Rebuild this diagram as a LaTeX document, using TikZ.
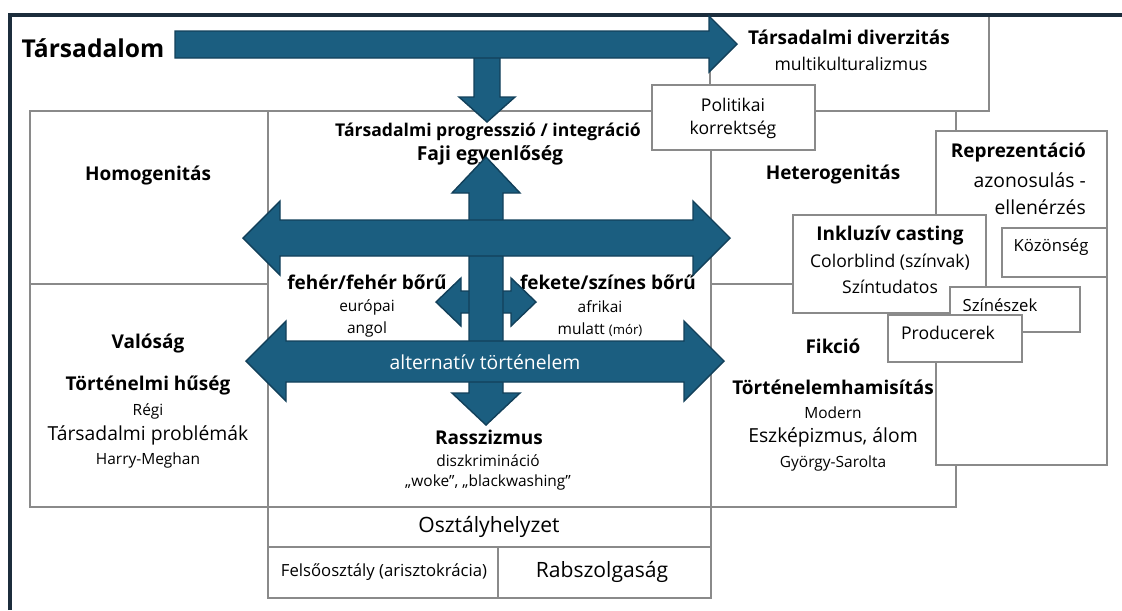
\documentclass[tikz,border=0pt]{standalone}
\usepackage{fontspec}
\setmainfont{Open Sans}
\definecolor{arrowblue}{HTML}{1B5E80}
\definecolor{arrowedge}{HTML}{12405A}
\definecolor{framenavy}{HTML}{1C2D3C}
\definecolor{boxgray}{HTML}{8A8A8A}
\tikzset{
    box/.style={draw=boxgray, line width=0.6pt, fill=white},
    rule/.style={draw=boxgray, line width=0.6pt},
    arr/.style={fill=arrowblue, draw=arrowedge, line width=0.8pt, line join=miter},
    title/.style={font=\fontsize{14}{16}\selectfont\bfseries},
    head/.style={font=\fontsize{10.8}{12}\selectfont\bfseries},
    headsmall/.style={font=\fontsize{10}{12}\selectfont\bfseries},
    headbig/.style={font=\fontsize{11}{13}\selectfont\bfseries},
    plain/.style={font=\fontsize{10}{12}\selectfont},
    plainbig/.style={font=\fontsize{11}{13}\selectfont},
    plainlarge/.style={font=\fontsize{12}{14}\selectfont},
    note/.style={font=\fontsize{8.8}{10}\selectfont},
    notebig/.style={font=\fontsize{9.5}{11}\selectfont}
}

\begin{document}
\begin{tikzpicture}[x=0.02cm, y=-0.02cm]
  \useasboundingbox (0,0) rectangle (1122,610);
  % Draw columns
  \draw[box] (30,111) rectangle (268,507);
  \draw[rule] (30,284) -- (268,284);
  \draw[box] (268,111) rectangle (711,507);
  \draw[box] (711,111) rectangle (956,507);
  \draw[rule] (711,284) -- (956,284);
  \draw[box] (268,507) rectangle (711,547);
  \draw[box] (268,547) rectangle (498,598);
  \draw[box] (498,547) rectangle (711,598);
  % Draw side boxes
  \draw[box] (710,15) rectangle (989,111);
  \draw[box] (652,85) rectangle (815,150);
  \draw[box] (936,131) rectangle (1107,465);
  \draw[box] (1002,228) rectangle (1107,277);
  \draw[box] (793,215) rectangle (986,313);
  \draw[box] (950,287) rectangle (1080,332);
  \draw[box] (888,315) rectangle (1022,362);
  % Draw frame
  \draw[framenavy, line width=1.8pt] (10,610) -- (10,15) -- (1122,15);
  % Draw labels
  \node[title] (tarsadalom) at (93,48) {Társadalom};
  \node[head] (diverz) at (849,37) {Társadalmi diverzitás};
  \node[plain] (multi) at (851,64) {multikulturalizmus};
  \node[plain] (polit) at (733,105) {Politikai};
  \node[plain] (korrekt) at (733,130) {korrektség};
  \node[headsmall] (progr) at (488,132) {Társadalmi progresszió / integráció};
  \node[headbig] (faji) at (490,155) {Faji egyenlőség};
  \node[head] (homog) at (148,175) {Homogenitás};
  \node[head] (heterog) at (833,174) {Heterogenitás};
  \node[head, anchor=east] (repr) at (1092,152) {Reprezentáció};
  \node[plainbig, anchor=east] (azon) at (1092,180) {azonosulás -};
  \node[plainbig, anchor=east] (ellen) at (1092,207) {ellenérzés};
  \node[notebig] (kozons) at (1051,247) {Közönség};
  \node[head] (inkl) at (890,235) {Inkluzív casting};
  \node[plain] (colorb) at (890,262) {Colorblind (színvak)};
  \node[plain] (szintud) at (890,287) {Színtudatos};
  \node[notebig] (szinesz) at (1000,305) {Színészek};
  \node[plain] (produc) at (948,333) {Producerek};
  \node[head] (feher) at (367,282) {fehér/fehér bőrű};
  \node[note] (europ) at (367,307) {európai};
  \node[note] (angol) at (367,329) {angol};
  \node[head] (fekete) at (608,282) {fekete/színes bőrű};
  \node[note] (afrik) at (600,307) {afrikai};
  \node[note] (mulatt) at (600,330) {mulatt {\fontsize{7.5}{8}\selectfont(mór)}};
  \node[head] (valosag) at (148,343) {Valóság};
  \node[head] (huseg) at (148,385) {Történelmi hűség};
  \node[note] (regi) at (148,411) {Régi};
  \node[plainbig] (tarsprob) at (148,435) {Társadalmi problémák};
  \node[note] (harry) at (148,460) {Harry-Meghan};
  \node[head] (fikcio) at (833,346) {Fikció};
  \node[head] (hamis) at (833,387) {Történelemhamisítás};
  \node[note] (modern) at (833,413) {Modern};
  \node[plainbig] (eszkep) at (833,437) {Eszképizmus, álom};
  \node[note] (gyorgy) at (833,463) {György-Sarolta};
  \node[head] (rassz) at (489,437) {Rasszizmus};
  \node[note] (diszkr) at (488,461) {diszkrimináció};
  \node[note] (woke) at (488,482) {„woke”, „blackwashing”};
  \node[plainlarge] (osztaly) at (489,527) {Osztályhelyzet};
  \node[notebig] (felso) at (384,572) {Felsőosztály (arisztokrácia)};
  \node[plainlarge] (rabszolga) at (602,572) {Rabszolgaság};
  % Draw society arrows
  \draw[arr] (474,50) -- (474,97) -- (459,97) -- (487,122) -- (515,97)
        -- (500,97) -- (500,50) -- cycle;
  \draw[arr] (175,31) -- (709,31) -- (709,16) -- (737,44) -- (709,72)
        -- (709,58) -- (175,58) -- cycle;
  % Draw cross arrows
  \draw[arr] (436,302) -- (461,278) -- (461,291) -- (511,291) -- (511,278)
        -- (536,302) -- (511,326) -- (511,313) -- (461,313) -- (461,326) -- cycle;
  \draw[arr] (486,157) -- (520,193) -- (503,193) -- (503,393) -- (520,393)
        -- (486,425) -- (452,393) -- (469,393) -- (469,193) -- (452,193) -- cycle;
  \draw[arr] (243,238) -- (280,201) -- (280,220) -- (693,220) -- (693,201)
        -- (730,238) -- (693,275) -- (693,256) -- (280,256) -- (280,275) -- cycle;
  \draw[arr] (246,361) -- (286,321) -- (286,341) -- (684,341) -- (684,321)
        -- (724,361) -- (684,401) -- (684,382) -- (286,382) -- (286,401) -- cycle;
  \node[plainbig, white] (altern) at (485,362) {alternatív történelem};
\end{tikzpicture}
\end{document}
